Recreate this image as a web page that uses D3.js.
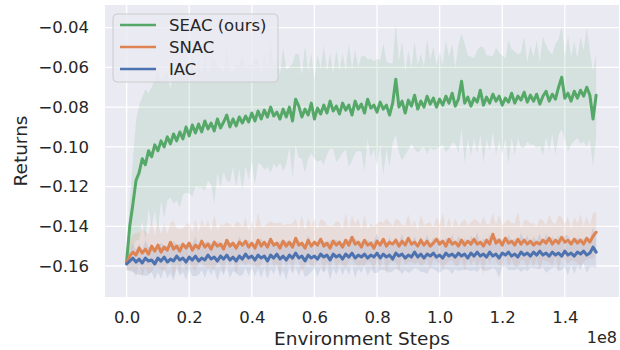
<!DOCTYPE html>
<html>
<head>
<meta charset="utf-8">
<script src="https://cdn.jsdelivr.net/npm/d3@7"></script>
<style>
  body { margin: 0; background: #fff; }
  text { font-family: "DejaVu Sans", sans-serif; fill: #262626; }
</style>
</head>
<body>
<svg id="chart" width="620" height="350"></svg>
<script>
// environment steps (x 1e8), one sample every 0.01
let steps = d3.range(0, 151).map(i => i / 100);

let xTicks = [0.0, 0.2, 0.4, 0.6, 0.8, 1.0, 1.2, 1.4];
let yTicks = [-0.16, -0.14, -0.12, -0.10, -0.08, -0.06, -0.04];

let seacMean = [
  -0.1580,-0.1400,-0.1290,-0.1170,-0.1130,-0.1060,-0.1090,-0.1020,-0.1050,-0.0990,
  -0.1020,-0.0970,-0.1000,-0.0950,-0.0985,-0.0935,-0.0970,-0.0925,-0.0960,-0.0900,
  -0.0945,-0.0890,-0.0930,-0.0885,-0.0925,-0.0870,-0.0910,-0.0880,-0.0920,-0.0860,
  -0.0905,-0.0875,-0.0840,-0.0900,-0.0860,-0.0895,-0.0850,-0.0880,-0.0845,-0.0875,
  -0.0830,-0.0870,-0.0820,-0.0860,-0.0815,-0.0850,-0.0800,-0.0845,-0.0825,-0.0860,
  -0.0810,-0.0850,-0.0800,-0.0870,-0.0760,-0.0795,-0.0850,-0.0810,-0.0840,-0.0780,
  -0.0860,-0.0805,-0.0835,-0.0790,-0.0830,-0.0770,-0.0820,-0.0795,-0.0835,-0.0780,
  -0.0815,-0.0790,-0.0840,-0.0770,-0.0810,-0.0785,-0.0830,-0.0760,-0.0805,-0.0790,
  -0.0825,-0.0775,-0.0810,-0.0790,-0.0840,-0.0780,-0.0660,-0.0800,-0.0770,-0.0830,
  -0.0765,-0.0795,-0.0740,-0.0810,-0.0770,-0.0800,-0.0745,-0.0785,-0.0755,-0.0800,
  -0.0760,-0.0790,-0.0745,-0.0780,-0.0730,-0.0795,-0.0760,-0.0670,-0.0780,-0.0750,
  -0.0795,-0.0755,-0.0775,-0.0715,-0.0790,-0.0750,-0.0780,-0.0735,-0.0770,-0.0745,
  -0.0790,-0.0755,-0.0775,-0.0730,-0.0780,-0.0745,-0.0765,-0.0725,-0.0775,-0.0740,
  -0.0770,-0.0735,-0.0785,-0.0745,-0.0720,-0.0770,-0.0735,-0.0760,-0.0700,-0.0650,
  -0.0755,-0.0730,-0.0770,-0.0720,-0.0755,-0.0715,-0.0745,-0.0700,-0.0740,-0.0860,
  -0.0740
];
let seacSpread = [
  0.002,0.012,0.022,0.030,0.034,0.031,0.038,0.029,0.035,0.033,
  0.040,0.030,0.036,0.032,0.027,0.035,0.030,0.038,0.028,0.033,
  0.029,0.036,0.027,0.032,0.028,0.035,0.026,0.031,0.037,0.027,
  0.030,0.025,0.033,0.028,0.024,0.031,0.026,0.034,0.025,0.029,
  0.024,0.032,0.026,0.023,0.030,0.025,0.033,0.024,0.028,0.022,
  0.031,0.024,0.020,0.029,0.023,0.026,0.021,0.032,0.022,0.025,
  0.020,0.027,0.023,0.030,0.021,0.024,0.019,0.028,0.022,0.025,
  0.020,0.031,0.023,0.026,0.021,0.024,0.029,0.020,0.025,0.022,
  0.027,0.021,0.033,0.022,0.026,0.020,0.028,0.023,0.030,0.021,
  0.025,0.019,0.027,0.022,0.024,0.020,0.029,0.022,0.026,0.021,
  0.024,0.020,0.028,0.023,0.025,0.019,0.027,0.024,0.030,0.021,
  0.025,0.020,0.026,0.022,0.029,0.021,0.024,0.019,0.027,0.022,
  0.025,0.020,0.031,0.022,0.026,0.021,0.024,0.028,0.020,0.025,
  0.022,0.027,0.021,0.030,0.023,0.025,0.020,0.028,0.024,0.026,
  0.021,0.029,0.022,0.025,0.020,0.027,0.023,0.030,0.022,0.024,
  0.021
];

let snacMean = [
  -0.1585,-0.1550,-0.1530,-0.1545,-0.1510,-0.1535,-0.1515,-0.1540,-0.1500,-0.1525,
  -0.1495,-0.1530,-0.1505,-0.1520,-0.1480,-0.1515,-0.1500,-0.1525,-0.1490,-0.1510,
  -0.1485,-0.1520,-0.1495,-0.1510,-0.1475,-0.1505,-0.1490,-0.1515,-0.1480,-0.1500,
  -0.1490,-0.1515,-0.1470,-0.1500,-0.1485,-0.1510,-0.1480,-0.1495,-0.1475,-0.1505,
  -0.1485,-0.1510,-0.1470,-0.1500,-0.1480,-0.1505,-0.1465,-0.1495,-0.1485,-0.1510,
  -0.1475,-0.1500,-0.1480,-0.1505,-0.1460,-0.1495,-0.1485,-0.1510,-0.1470,-0.1500,
  -0.1480,-0.1495,-0.1465,-0.1500,-0.1485,-0.1510,-0.1475,-0.1495,-0.1480,-0.1505,
  -0.1470,-0.1495,-0.1455,-0.1490,-0.1480,-0.1505,-0.1470,-0.1495,-0.1485,-0.1510,
  -0.1475,-0.1495,-0.1465,-0.1500,-0.1480,-0.1490,-0.1470,-0.1500,-0.1475,-0.1495,
  -0.1460,-0.1490,-0.1480,-0.1500,-0.1470,-0.1495,-0.1475,-0.1500,-0.1485,-0.1465,
  -0.1490,-0.1475,-0.1500,-0.1465,-0.1490,-0.1480,-0.1500,-0.1470,-0.1495,-0.1475,
  -0.1490,-0.1465,-0.1490,-0.1480,-0.1500,-0.1470,-0.1490,-0.1440,-0.1485,-0.1470,
  -0.1495,-0.1460,-0.1485,-0.1475,-0.1495,-0.1465,-0.1490,-0.1470,-0.1490,-0.1475,
  -0.1495,-0.1480,-0.1490,-0.1470,-0.1485,-0.1460,-0.1490,-0.1470,-0.1485,-0.1455,
  -0.1480,-0.1470,-0.1490,-0.1465,-0.1485,-0.1470,-0.1490,-0.1460,-0.1480,-0.1450,
  -0.1430
];
let snacSpread = [
  0.004,0.007,0.009,0.011,0.008,0.012,0.009,0.010,0.013,0.008,
  0.011,0.009,0.012,0.008,0.010,0.014,0.009,0.011,0.008,0.012,
  0.010,0.009,0.013,0.008,0.011,0.010,0.012,0.009,0.014,0.008,
  0.010,0.012,0.009,0.011,0.008,0.013,0.010,0.009,0.012,0.008,
  0.011,0.009,0.014,0.010,0.008,0.012,0.009,0.011,0.010,0.013,
  0.008,0.011,0.009,0.012,0.010,0.008,0.014,0.009,0.011,0.010,
  0.012,0.008,0.010,0.013,0.009,0.011,0.008,0.012,0.010,0.009,
  0.014,0.008,0.011,0.010,0.012,0.009,0.013,0.008,0.010,0.011,
  0.009,0.012,0.008,0.014,0.010,0.009,0.011,0.013,0.008,0.010,
  0.012,0.009,0.011,0.008,0.013,0.010,0.009,0.012,0.008,0.011,
  0.010,0.014,0.009,0.011,0.008,0.012,0.010,0.009,0.013,0.008,
  0.011,0.010,0.012,0.009,0.015,0.008,0.010,0.011,0.009,0.013,
  0.010,0.008,0.012,0.009,0.011,0.014,0.008,0.010,0.012,0.009,
  0.011,0.008,0.013,0.010,0.009,0.012,0.011,0.008,0.014,0.010,
  0.009,0.012,0.008,0.011,0.010,0.013,0.009,0.011,0.008,0.012,
  0.010
];

let iacMean = [
  -0.1590,-0.1575,-0.1560,-0.1580,-0.1565,-0.1585,-0.1560,-0.1575,-0.1570,-0.1590,
  -0.1560,-0.1575,-0.1555,-0.1580,-0.1565,-0.1575,-0.1550,-0.1570,-0.1560,-0.1580,
  -0.1555,-0.1570,-0.1550,-0.1575,-0.1560,-0.1570,-0.1545,-0.1565,-0.1555,-0.1575,
  -0.1550,-0.1565,-0.1545,-0.1570,-0.1555,-0.1575,-0.1550,-0.1565,-0.1540,-0.1560,
  -0.1550,-0.1570,-0.1545,-0.1560,-0.1550,-0.1575,-0.1545,-0.1560,-0.1540,-0.1565,
  -0.1550,-0.1570,-0.1545,-0.1560,-0.1535,-0.1560,-0.1550,-0.1575,-0.1545,-0.1560,
  -0.1550,-0.1565,-0.1540,-0.1555,-0.1545,-0.1570,-0.1540,-0.1555,-0.1545,-0.1565,
  -0.1540,-0.1555,-0.1535,-0.1560,-0.1545,-0.1555,-0.1540,-0.1560,-0.1545,-0.1555,
  -0.1535,-0.1560,-0.1540,-0.1555,-0.1545,-0.1565,-0.1535,-0.1550,-0.1540,-0.1560,
  -0.1545,-0.1555,-0.1530,-0.1555,-0.1540,-0.1560,-0.1540,-0.1550,-0.1535,-0.1555,
  -0.1545,-0.1560,-0.1535,-0.1550,-0.1540,-0.1555,-0.1535,-0.1550,-0.1540,-0.1560,
  -0.1535,-0.1550,-0.1530,-0.1550,-0.1540,-0.1555,-0.1530,-0.1550,-0.1540,-0.1560,
  -0.1535,-0.1545,-0.1530,-0.1550,-0.1540,-0.1555,-0.1530,-0.1545,-0.1535,-0.1550,
  -0.1530,-0.1545,-0.1525,-0.1545,-0.1535,-0.1550,-0.1530,-0.1545,-0.1535,-0.1550,
  -0.1525,-0.1545,-0.1535,-0.1550,-0.1530,-0.1540,-0.1525,-0.1545,-0.1535,-0.1505,
  -0.1530
];
let iacSpread = [
  0.003,0.005,0.007,0.006,0.008,0.006,0.009,0.007,0.006,0.008,
  0.007,0.009,0.006,0.008,0.007,0.010,0.006,0.008,0.007,0.009,
  0.006,0.008,0.010,0.007,0.006,0.009,0.007,0.008,0.006,0.010,
  0.007,0.008,0.006,0.009,0.007,0.006,0.010,0.008,0.007,0.009,
  0.006,0.008,0.007,0.010,0.006,0.009,0.007,0.008,0.006,0.009,
  0.007,0.010,0.006,0.008,0.007,0.009,0.006,0.008,0.010,0.007,
  0.006,0.009,0.007,0.008,0.006,0.010,0.007,0.009,0.006,0.008,
  0.007,0.009,0.006,0.010,0.007,0.008,0.006,0.009,0.007,0.008,
  0.010,0.006,0.008,0.007,0.009,0.006,0.008,0.007,0.010,0.006,
  0.009,0.007,0.008,0.006,0.009,0.007,0.010,0.006,0.008,0.007,
  0.009,0.006,0.008,0.007,0.010,0.006,0.009,0.007,0.008,0.006,
  0.009,0.007,0.010,0.006,0.008,0.007,0.009,0.006,0.008,0.010,
  0.007,0.006,0.009,0.007,0.008,0.006,0.010,0.007,0.009,0.006,
  0.008,0.007,0.009,0.006,0.010,0.007,0.008,0.006,0.009,0.007,
  0.008,0.010,0.006,0.009,0.007,0.008,0.006,0.009,0.007,0.010,
  0.008
];

let seriesNames = ["SEAC (ours)", "SNAC", "IAC"];
let seriesColors = ["#55A868", "#DD8452", "#4C72B0"];

let series = [
  {name: seriesNames[0], color: seriesColors[0], mean: seacMean, spread: seacSpread},
  {name: seriesNames[1], color: seriesColors[1], mean: snacMean, spread: snacSpread},
  {name: seriesNames[2], color: seriesColors[2], mean: iacMean, spread: iacSpread}
];

let svg = d3.select("#chart");
let margin = {top: 5, right: 1, bottom: 53, left: 105};
let width = +svg.attr("width") - margin.left - margin.right;
let height = +svg.attr("height") - margin.top - margin.bottom;

let g = svg.append("g")
    .attr("transform", "translate(" + margin.left + "," + margin.top + ")");

let x = d3.scaleLinear().domain([-0.069, 1.573]).range([0, width]);
let y = d3.scaleLinear().domain([-0.1756, -0.0286]).range([height, 0]);

// seaborn darkgrid background
g.append("rect")
    .attr("width", width)
    .attr("height", height)
    .attr("fill", "#EAEAF2");

g.append("g").selectAll("line")
    .data(xTicks)
    .enter().append("line")
        .attr("x1", d => x(d)).attr("x2", d => x(d))
        .attr("y1", 0).attr("y2", height)
        .attr("stroke", "#fff").attr("stroke-width", 1.3);

g.append("g").selectAll("line")
    .data(yTicks)
    .enter().append("line")
        .attr("y1", d => y(d)).attr("y2", d => y(d))
        .attr("x1", 0).attr("x2", width)
        .attr("stroke", "#fff").attr("stroke-width", 1.3);

// axes, no spines and no tick marks
let xAxis = g.append("g")
    .attr("transform", "translate(0," + height + ")")
    .call(d3.axisBottom(x).tickValues(xTicks).tickFormat(d3.format(".1f")).tickSize(0).tickPadding(10));
let yAxis = g.append("g")
    .call(d3.axisLeft(y).tickValues(yTicks).tickFormat(d3.format(".2f")).tickSize(0).tickPadding(16));

for (let ax of [xAxis, yAxis]) {
    ax.select(".domain").remove();
    ax.selectAll("text")
        .attr("fill", "#262626")
        .style("font-size", "16.5px")
        .style("font-family", "DejaVu Sans");
}
xAxis.selectAll("text").attr("dy", "0.95em");

svg.append("text")
    .attr("x", margin.left + width / 2)
    .attr("y", 345)
    .attr("text-anchor", "middle")
    .style("font-size", "18.5px")
    .text("Environment Steps");

svg.append("text")
    .attr("x", 617)
    .attr("y", 343)
    .attr("text-anchor", "end")
    .style("font-size", "16px")
    .text("1e8");

svg.append("text")
    .attr("transform", "translate(27," + (margin.top + height / 2) + ") rotate(-90)")
    .attr("text-anchor", "middle")
    .style("font-size", "18.5px")
    .text("Returns");

// shaded spread bands, then mean lines
let area = d3.area()
    .x((d, i) => x(steps[i]))
    .y0(d => y(d[0] - d[1]))
    .y1(d => y(d[0] + d[1]));

let line = d3.line()
    .x((d, i) => x(steps[i]))
    .y(d => y(d));

let plot = g.append("g");

plot.selectAll(".band")
    .data(series)
    .enter().append("path")
        .attr("class", "band")
        .attr("fill", d => d.color)
        .attr("fill-opacity", 0.14)
        .attr("d", d => area(d.mean.map((m, i) => [m, d.spread[i]])));

plot.selectAll(".line")
    .data(series)
    .enter().append("path")
        .attr("class", "line")
        .attr("fill", "none")
        .attr("stroke", d => d.color)
        .attr("stroke-width", 3)
        .attr("stroke-linejoin", "round")
        .attr("stroke-linecap", "round")
        .attr("d", d => line(d.mean));

// legend
let legend = svg.append("g").attr("transform", "translate(113,14)");
legend.append("rect")
    .attr("width", 165)
    .attr("height", 68)
    .attr("rx", 4)
    .attr("fill", "#EAEAF2")
    .attr("fill-opacity", 0.8)
    .attr("stroke", "#CCCCCC")
    .attr("stroke-width", 1);

let items = legend.selectAll(".item")
    .data(series)
    .enter().append("g")
        .attr("class", "item")
        .attr("transform", (d, i) => "translate(0," + (11 + i * 22) + ")");

items.append("line")
    .attr("x1", 7).attr("x2", 43)
    .attr("stroke", d => d.color)
    .attr("stroke-width", 2.4);

items.append("text")
    .attr("x", 56)
    .attr("dy", "0.36em")
    .style("font-size", "16.5px")
    .text(d => d.name);
</script>
</body>
</html>
